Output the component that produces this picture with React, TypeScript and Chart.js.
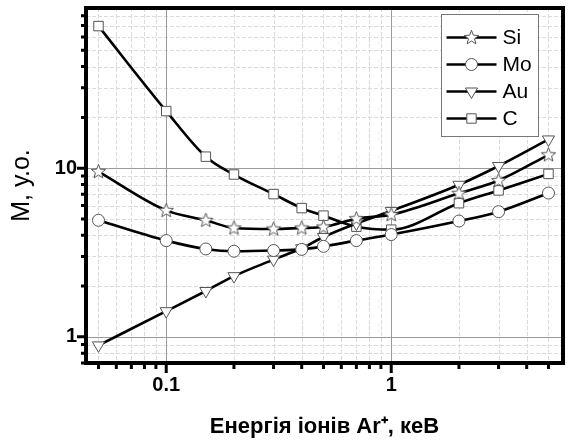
import React, { useEffect, useRef } from 'react';
import { Chart, registerables } from 'chart.js';

Chart.register(...registerables);

// Energy of Ar+ ions, keV
const energy = [0.05, 0.1, 0.15, 0.2, 0.3, 0.4, 0.5, 0.7, 1, 2, 3, 5];
// M, arbitrary units
const siValues = [9.55, 5.62, 4.91, 4.42, 4.36, 4.42, 4.48, 5.02, 5.3, 7.1, 8.45, 12.0];
const moValues = [4.91, 3.72, 3.32, 3.22, 3.25, 3.3, 3.44, 3.72, 4.04, 4.86, 5.52, 7.12];
const auValues = [0.89, 1.42, 1.87, 2.29, 2.87, 3.35, 3.91, 4.7, 5.58, 7.97, 10.3, 14.8];
const cValues = [69.5, 21.8, 11.7, 9.17, 7.02, 5.8, 5.23, 4.5, 4.32, 6.2, 7.38, 9.25];

const seriesNames = ['Si', 'Mo', 'Au', 'C'];
const xTickLabels = [0.1, 1];
const yTickLabels = [1, 10];

const xTitle = 'Енергія іонів Ar\u207A, кеВ';
const yTitle = 'М, у.о.';

const FONT = '"Liberation Sans", Arial, sans-serif';
const MARKER_EDGE = '#555';

function makeStar(): HTMLCanvasElement {
  const c = document.createElement('canvas');
  c.width = 17;
  c.height = 17;
  const g = c.getContext('2d')!;
  const cx = 8.5, cy = 8.8, R = 7.5, r = 3.2;
  g.beginPath();
  for (let i = 0; i < 10; i++) {
    const a = -Math.PI / 2 + (i * Math.PI) / 5;
    const rr = i % 2 === 0 ? R : r;
    const px = cx + rr * Math.cos(a);
    const py = cy + rr * Math.sin(a);
    if (i === 0) g.moveTo(px, py);
    else g.lineTo(px, py);
  }
  g.closePath();
  g.fillStyle = '#fff';
  g.fill();
  g.strokeStyle = MARKER_EDGE;
  g.lineWidth = 1;
  g.stroke();
  return c;
}

function logValues(min: number, max: number) {
  const out: { v: number; major: boolean }[] = [];
  for (let e = Math.floor(Math.log10(min)); e <= Math.ceil(Math.log10(max)); e++) {
    for (let m = 1; m < 10; m++) {
      const v = +(m * Math.pow(10, e)).toPrecision(6);
      if (v >= min && v <= max) out.push({ v, major: m === 1 });
    }
  }
  return out;
}

function isOneOf(v: number, list: number[]) {
  return list.some((t) => Math.abs(v - t) / t < 1e-6);
}

function drawMarker(ctx: CanvasRenderingContext2D, style: any, x: number, y: number) {
  ctx.save();
  ctx.fillStyle = '#fff';
  ctx.strokeStyle = MARKER_EDGE;
  ctx.lineWidth = 1;
  ctx.setLineDash([]);
  if (style instanceof HTMLCanvasElement) {
    ctx.drawImage(style, x - style.width / 2, y - style.height / 2);
  } else if (style === 'circle') {
    ctx.beginPath();
    ctx.arc(x, y, 6, 0, Math.PI * 2);
    ctx.fill();
    ctx.stroke();
  } else if (style === 'triangle') {
    const r = 7;
    ctx.beginPath();
    ctx.moveTo(x, y + r);
    ctx.lineTo(x - r * Math.sin(Math.PI / 3), y - r / 2);
    ctx.lineTo(x + r * Math.sin(Math.PI / 3), y - r / 2);
    ctx.closePath();
    ctx.fill();
    ctx.stroke();
  } else {
    const s = 4.7;
    ctx.beginPath();
    ctx.rect(x - s, y - s, 2 * s, 2 * s);
    ctx.fill();
    ctx.stroke();
  }
  ctx.restore();
}

const framePlugin = {
  id: 'frame',
  beforeDatasetsDraw(chart: any) {
    const { ctx, chartArea: a, scales } = chart;
    const xs = scales.x;
    const ys = scales.y;
    ctx.save();
    ctx.beginPath();
    ctx.rect(a.left, a.top, a.right - a.left, a.bottom - a.top);
    ctx.clip();
    const xv = logValues(xs.min, xs.max);
    const yv = logValues(ys.min, ys.max);
    // minor grid
    ctx.lineWidth = 1;
    ctx.strokeStyle = '#dadada';
    ctx.setLineDash([4, 2]);
    ctx.beginPath();
    xv.filter((t) => !t.major).forEach((t) => {
      const p = Math.round(xs.getPixelForValue(t.v)) + 0.5;
      ctx.moveTo(p, a.top);
      ctx.lineTo(p, a.bottom);
    });
    yv.filter((t) => !t.major).forEach((t) => {
      const p = Math.round(ys.getPixelForValue(t.v)) + 0.5;
      ctx.moveTo(a.left, p);
      ctx.lineTo(a.right, p);
    });
    ctx.stroke();
    // major grid
    ctx.setLineDash([]);
    ctx.strokeStyle = '#9a9a9a';
    ctx.beginPath();
    xv.filter((t) => t.major).forEach((t) => {
      const p = Math.round(xs.getPixelForValue(t.v)) + 0.5;
      ctx.moveTo(p, a.top);
      ctx.lineTo(p, a.bottom);
    });
    yv.filter((t) => t.major).forEach((t) => {
      const p = Math.round(ys.getPixelForValue(t.v)) + 0.5;
      ctx.moveTo(a.left, p);
      ctx.lineTo(a.right, p);
    });
    ctx.stroke();
    ctx.restore();
  },
  afterDatasetsDraw(chart: any) {
    const { ctx, chartArea: a, scales } = chart;
    const xs = scales.x;
    const ys = scales.y;
    ctx.save();
    // ticks
    ctx.strokeStyle = '#000';
    ctx.lineWidth = 3;
    ctx.setLineDash([]);
    ctx.beginPath();
    logValues(xs.min, xs.max).forEach((t) => {
      const p = xs.getPixelForValue(t.v);
      ctx.moveTo(p, a.bottom);
      ctx.lineTo(p, a.bottom + (t.major ? 10 : 6));
    });
    logValues(ys.min, ys.max).forEach((t) => {
      const p = ys.getPixelForValue(t.v);
      ctx.moveTo(a.left, p);
      ctx.lineTo(a.left - (t.major ? 9 : 5), p);
    });
    ctx.stroke();
    // frame
    ctx.lineWidth = 4;
    ctx.strokeRect(a.left, a.top, a.right - a.left, a.bottom - a.top);

    // legend
    const bw = 97, bh = 122;
    const bx = Math.round(a.right - 25 - bw) + 0.5;
    const by = Math.round(a.top + 6) + 0.5;
    ctx.fillStyle = '#fff';
    ctx.fillRect(bx, by, bw, bh);
    ctx.lineWidth = 1;
    ctx.strokeStyle = '#777';
    ctx.strokeRect(bx, by, bw, bh);
    chart.data.datasets.forEach((ds: any, i: number) => {
      const cy = by + 23 + i * 27;
      ctx.strokeStyle = '#000';
      ctx.lineWidth = 2.5;
      ctx.beginPath();
      ctx.moveTo(bx + 5, cy);
      ctx.lineTo(bx + 55, cy);
      ctx.stroke();
      drawMarker(ctx, ds.pointStyle, bx + 30, cy);
      ctx.fillStyle = '#000';
      ctx.font = `21px ${FONT}`;
      ctx.textAlign = 'left';
      ctx.textBaseline = 'middle';
      ctx.fillText(ds.label, bx + 61, cy + 1);
    });
    ctx.restore();
  },
};

export default function App() {
  const ref = useRef<HTMLCanvasElement | null>(null);

  useEffect(() => {
    if (!ref.current) return;
    const star = makeStar();
    const common = {
      borderColor: '#000',
      borderWidth: 2.6,
      pointBackgroundColor: '#fff',
      pointBorderColor: MARKER_EDGE,
      pointBorderWidth: 1,
      cubicInterpolationMode: 'monotone' as const,
      fill: false,
    };
    const mk = (vals: number[]) => energy.map((e, i) => ({ x: e, y: vals[i] }));
    const chart = new Chart(ref.current, {
      type: 'line',
      data: {
        datasets: [
          { ...common, label: seriesNames[0], data: mk(siValues), pointStyle: star as any, pointRadius: 7 },
          { ...common, label: seriesNames[1], data: mk(moValues), pointStyle: 'circle', pointRadius: 6 },
          { ...common, label: seriesNames[2], data: mk(auValues), pointStyle: 'triangle', pointRotation: 180, pointRadius: 7 },
          { ...common, label: seriesNames[3], data: mk(cValues), pointStyle: 'rect', pointRadius: 6.7 },
        ],
      },
      options: {
        responsive: false,
        animation: false,
        events: [],
        layout: { padding: { top: 7, right: 4, left: 0, bottom: 0 } },
        plugins: { legend: { display: false }, tooltip: { enabled: false } },
        scales: {
          x: {
            type: 'logarithmic',
            min: 0.044,
            max: 5.8,
            grid: { display: false, drawTicks: false },
            border: { display: false },
            ticks: {
              autoSkip: false,
              maxRotation: 0,
              padding: 10,
              color: '#000',
              font: { family: FONT, size: 20, weight: 'bold' },
              callback: (v: any) => (isOneOf(Number(v), xTickLabels) ? String(Number(v)) : ''),
            },
            title: {
              display: true,
              text: xTitle,
              color: '#000',
              font: { family: FONT, size: 22, weight: 'bold' },
              padding: { top: 0, bottom: 1 },
            },
            afterFit: (s: any) => {
              s.height = 78;
              s.paddingLeft = 0;
              s.paddingRight = 0;
            },
          },
          y: {
            type: 'logarithmic',
            min: 0.71,
            max: 89,
            grid: { display: false, drawTicks: false },
            border: { display: false },
            ticks: {
              autoSkip: false,
              padding: 9,
              color: '#000',
              font: { family: FONT, size: 20, weight: 'bold' },
              callback: (v: any) => (isOneOf(Number(v), yTickLabels) ? String(Number(v)) : ''),
            },
            title: {
              display: true,
              text: yTitle,
              color: '#000',
              font: { family: FONT, size: 25, weight: 'normal' },
              padding: { top: 7, bottom: 0 },
            },
            afterFit: (s: any) => {
              s.width = 86;
              s.paddingTop = 0;
              s.paddingBottom = 0;
            },
          },
        },
      },
      plugins: [framePlugin],
    });
    return () => chart.destroy();
  }, []);

  return (
    <div style={{ position: 'absolute', left: 0, top: 0, width: 571, height: 441, background: '#fff' }}>
      <canvas ref={ref} width={571} height={441} style={{ display: 'block' }} />
    </div>
  );
}
